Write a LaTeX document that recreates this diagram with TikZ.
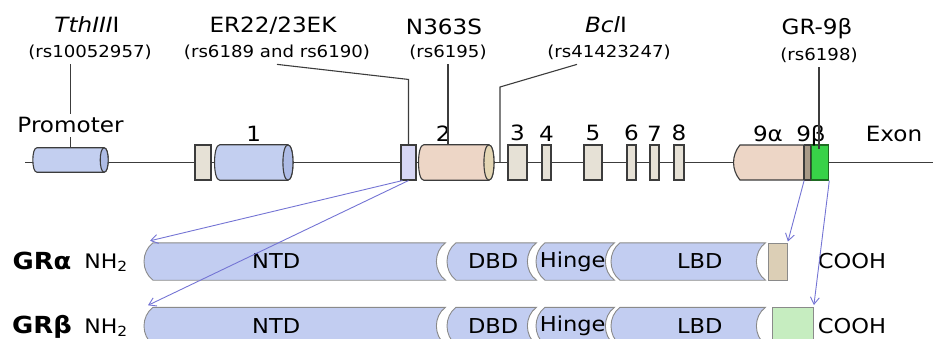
\documentclass[tikz,border=0pt]{standalone}
\usepackage{fontspec}
\setmainfont{DejaVu Sans}[FakeStretch=1.1]
\usetikzlibrary{positioning, arrows.meta, shapes.misc, calc, backgrounds}

\definecolor{edge}{HTML}{3C3C3C}
\definecolor{genblue}{HTML}{C3CFF0}
\definecolor{genblueend}{HTML}{AEBCE6}
\definecolor{genpeach}{HTML}{EDD6C6}
\definecolor{genpeachend}{HTML}{E4D6B4}
\definecolor{genbeige}{HTML}{E6E1D6}
\definecolor{genlav}{HTML}{D6D6F4}
\definecolor{genstripe}{HTML}{A89A88}
\definecolor{gengreen}{HTML}{38D248}
\definecolor{gendkgreen}{HTML}{1E6B22}
\definecolor{arrblue}{HTML}{7474D4}
\definecolor{barblue}{HTML}{C2CDF1}
\definecolor{endbeige}{HTML}{DCCFB6}
\definecolor{endgreen}{HTML}{C6EDC0}

% cylinder exon drawn round an anchor node: node, body fill, end fill, end depth
\newcommand{\cylpath}[4]{%
    \draw[cylline, fill=#2] (#1.north west) .. controls +(-#4,0) and +(-#4,0) .. (#1.south west)
        -- (#1.south east) .. controls +(#4,0) and +(#4,0) .. (#1.north east) -- cycle;
    \draw[cylline, fill=#3] (#1.north east) .. controls +(#4,0) and +(#4,0) .. (#1.south east)
        .. controls +(-#4,0) and +(-#4,0) .. (#1.north east) -- cycle;}
% protein domain outline: convex left end, concave right end
\newcommand{\dompath}[1]{%
    \draw[domline] (#1.north west) .. controls +(-12,9) and +(-12,-9) .. (#1.south west)
        -- (#1.south east) .. controls +(-12,-9) and +(-12,9) .. (#1.north east) -- cycle;}

\begin{document}
\begin{tikzpicture}[
    x=1pt, y=-1pt,
    font=\fontsize{21}{24}\selectfont,
    gene/.style={draw=edge, line width=1.4pt},
    exon/.style={draw=edge, line width=1.1pt, rectangle, inner sep=0pt, minimum width=#1, minimum height=35pt},
    cylnode/.style={rectangle, inner sep=0pt, minimum height=35pt, minimum width=#1},
    cylline/.style={draw=edge, line width=1.1pt, line join=round},
    domnode/.style={rectangle, inner sep=0pt, minimum height=37pt, minimum width=#1, anchor=west},
    domline/.style={draw=edge!60, line width=0.9pt, fill=barblue},
    domlbl/.style={font=\fontsize{20.5}{24}\selectfont},
    snp/.style={anchor=base, inner sep=3pt},
    rs/.style={anchor=base, inner sep=4pt, font=\fontsize{16.5}{20}\selectfont},
    num/.style={inner sep=0pt},
    snpline/.style={draw=edge, line width=1.1pt},
    conn/.style={draw=arrblue, line width=0.9pt, -{Straight Barb[length=7pt, width=9pt]}}
]
    \useasboundingbox (0,0) rectangle (933,339);

    % polymorphisms
    \node[snp] (tth) at (87,33) {\textit{TthIII}I};
    \node[rs] (tthrs) at (90,58) {(rs10052957)};
    \node[snp] (er) at (273,33) {ER22/23EK};
    \node[rs] (errs) at (277,58) {(rs6189 and rs6190)};
    \node[snp] (n363) at (444,35) {N363S};
    \node[rs] (n363rs) at (448,58) {(rs6195)};
    \node[snp] (bcl) at (606,33) {\textit{Bcl}I};
    \node[rs] (bclrs) at (609,58) {(rs41423247)};
    \node[snp] (gr9) at (817,35) {GR-9β};
    \node[rs] (gr9rs) at (819,61) {(rs6198)};

    % gene line
    \coordinate (lineL) at (25,162.5);
    \coordinate (lineR) at (933,162.5);
    \draw[gene] (lineL) -- (lineR);

    % exons
    \node[cylnode=67pt, minimum height=24pt] (prom) at (70.5,160) {};
    \node[exon=16pt, fill=genbeige] (ex1a) at (203,162.5) {};
    \node[cylnode=68pt, right=8pt of ex1a] (ex1) {};
    \node[exon=15pt, fill=genlav] (exs) at (408.5,162.5) {};
    \node[cylnode=65pt, right=7pt of exs] (ex2) {};
    \cylpath{prom}{genblue}{genblueend}{5.3}
    \cylpath{ex1}{genblue}{genblueend}{6.7}
    \cylpath{ex2}{genpeach}{genpeachend}{6.7}
    \foreach \n/\xa/\xb in {3/508/527, 4/542/551, 5/584/602, 6/627/636, 7/650/659, 8/674/684} {
        \node[exon={(\xb-\xa)*1pt}, fill=genbeige] (ex\n) at ({(\xa+\xb)/2},162.5) {};
        \node[num, above=3pt of ex\n] (num\n) {\n};
    }
    \node[rounded rectangle, rounded rectangle right arc=none, rounded rectangle arc length=80,
        draw=edge, line width=1.1pt, fill=genpeach, minimum width=70pt, minimum height=35pt,
        inner sep=0pt, anchor=west] (ex9a) at (733,162.5) {};
    \node[exon=6pt, fill=genstripe, right=0pt of ex9a] (ex9s) {};
    \node[exon=17pt, fill=gengreen, draw=gendkgreen, right=0pt of ex9s] (ex9b) {};

    % exon numbers
    \node[num, above=3pt of ex1] (num1) {1};
    \node[num, above=3pt of ex2, xshift=-13pt] (num2) {2};
    \node[num, anchor=base] (num9a) at (768,142) {9α};
    \node[num, anchor=base] (num9b) at (811,142) {9β};
    \node[num, anchor=base] (exon) at (894,142) {Exon};

    % polymorphism connectors
    \coordinate (bclknee) at (500,87);
    \coordinate (bclend) at (500,162.5);
    \draw[snpline] (tthrs.south -| prom.north) -- (prom.north);
    \node[anchor=base, fill=white] (promtxt) at (70.5,133) {Promoter};
    \draw[snpline] (errs.south) -- ($(exs.north)+(0,-65)$) -- (exs.north);
    \draw[snpline] (n363rs.south) -- (n363rs.south |- ex2.north);
    \draw[snpline] ([xshift=-32pt]bclrs.south) -- (bclknee) -- (bclend);
    \draw[snpline] (gr9rs.south) -- ([yshift=-5pt]gr9rs.south |- ex9b.north);

    % protein isoforms
    \foreach \r/\y/\gr/\endx/\endw/\endfill in {a/261.5/GRα/768/19/endbeige, b/326/GRβ/772/41/endgreen} {
        \node[anchor=base, font=\fontsize{23.5}{24}\selectfont\bfseries] (gr\r) at (42,\y+7.5) {\gr};
        \node[anchor=base, font=\fontsize{20}{24}\selectfont] (nh\r) at (106,\y+7) {NH\textsubscript{2}};
        \node[domnode=292pt, label={[domlbl, xshift=-23pt]center:NTD}] (ntd\r) at (153,\y) {};
        \node[domnode=80pt, label={[domlbl, xshift=-3pt]center:DBD}] (dbd\r) at (456,\y) {};
        \node[domnode=69pt, label={[domlbl, xshift=-7pt]center:Hinge}] (hin\r) at (545,\y) {};
        \node[domnode=145pt, label={[domlbl, xshift=7pt]center:LBD}] (lbd\r) at (620,\y) {};
        \begin{scope}[on background layer]
            \dompath{ntd\r} \dompath{dbd\r} \dompath{hin\r} \dompath{lbd\r}
        \end{scope}
        \node[draw=edge!60, line width=0.9pt, fill=\endfill, minimum width=\endw pt, minimum height=37pt,
            inner sep=0pt, anchor=west] (end\r) at (\endx,\y) {};
        \node[domlbl, anchor=base] (cooh\r) at (852,\y+7) {COOH};
    }

    % splicing arrows
    \draw[conn] ([xshift=2pt]exs.south west) -- ([xshift=-3pt, yshift=2pt]ntda.north west);
    \draw[conn] (exs.south) -- ([xshift=-5pt, yshift=2pt]ntdb.north west);
    \draw[conn] (ex9s.south west) -- ([yshift=1pt]enda.north east);
    \draw[conn] (ex9b.south east) -- ([yshift=2pt]endb.north east);
\end{tikzpicture}
\end{document}
